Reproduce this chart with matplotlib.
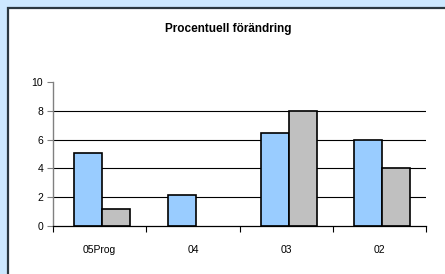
import matplotlib
matplotlib.use("Agg")
import matplotlib.pyplot as plt
from matplotlib.patches import Rectangle
from matplotlib.lines import Line2D

categories = ["05Prog", "04", "03", "02"]
series_a = [5.05, 2.15, 6.45, 6.0]
series_b = [1.15, 0.0, 8.0, 4.0]
yticks = [0, 2, 4, 6, 8, 10]
title = "Procentuell förändring"

W, H = 445, 274
plt.rcParams['font.family'] = ['Liberation Sans', 'DejaVu Sans']
fig = plt.figure(figsize=(4.45, 2.74), dpi=100, facecolor="#CCE8FF")
fig.patch.set_edgecolor("none")
fig.patch.set_linewidth(0)

# white inner panel with dark top/left border
px, py = 7.5 / W, (H - 7.5) / H
panel = Rectangle((px, -0.05), 1.1, py + 0.05, transform=fig.transFigure,
                  facecolor="white", edgecolor="none", linewidth=0, zorder=-10)
fig.patches.append(panel)
fig.lines.append(Line2D([px, px, 1.1], [-0.05, py, py], transform=fig.transFigure,
                        color="#2B3840", linewidth=1.6, zorder=-9,
                        solid_joinstyle="miter"))

ax = fig.add_axes([53 / W, (H - 226) / H, (426 - 53) / W, (226 - 82) / H])
ax.set_zorder(5)
ax.set_facecolor("none")

x = list(range(len(categories)))
w = 0.3
lw_a = [1.2 if v > 0 else 0 for v in series_a]
lw_b = [1.2 if v > 0 else 0 for v in series_b]
ax.bar([i - w / 2 + 0.03 for i in x], series_a, width=w, color="#99CCFF",
       edgecolor="black", linewidth=lw_a, zorder=3)
ax.bar([i + w / 2 + 0.03 for i in x], series_b, width=w, color="#C0C0C0",
       edgecolor="black", linewidth=lw_b, zorder=3)

ax.set_xlim(-0.5, len(categories) - 0.5)
ax.set_ylim(0, 10)
ax.set_yticks(yticks)
for v in yticks[1:-1]:
    ax.axhline(v, color="black", linewidth=0.8, zorder=1)

ax.set_xticks(x)
ax.set_xticklabels(categories, fontsize=7.5)
ax.set_xticks([i - 0.5 for i in range(len(categories) + 1)], minor=True)
ax.tick_params(axis="x", which="major", length=0, pad=14)
ax.tick_params(axis="x", which="minor", length=4, width=0.8, color="black", direction="out")
ax.tick_params(axis="y", length=4, width=0.8, color="#808080", labelsize=7.5, pad=3)

for s in ["top", "right"]:
    ax.spines[s].set_visible(False)
ax.spines["left"].set_color("#808080")
ax.spines["left"].set_linewidth(1.0)
ax.spines["bottom"].set_color("black")
ax.spines["bottom"].set_linewidth(0.9)
ax.spines["bottom"].set_zorder(4)

fig.text(228 / W, (H - 29) / H, title, ha="center", va="center",
         fontsize=8.5, fontweight="bold", zorder=6)

fig.savefig("out.png", dpi=100, facecolor=fig.get_facecolor(), edgecolor="none")
